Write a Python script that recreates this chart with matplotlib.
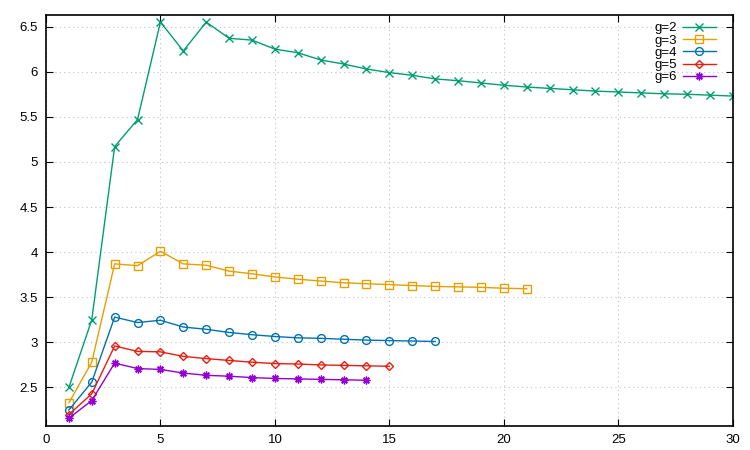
import matplotlib
matplotlib.use("Agg")
import matplotlib.pyplot as plt

plt.rcParams["font.family"] = ["Liberation Sans", "DejaVu Sans"]

# values
g2 = [2.50, 3.25, 5.17, 5.47, 6.55, 6.23, 6.55, 6.37, 6.35, 6.25,
      6.21, 6.13, 6.085, 6.03, 5.99, 5.96, 5.92, 5.90, 5.875, 5.85,
      5.83, 5.815, 5.80, 5.785, 5.775, 5.765, 5.755, 5.75, 5.74, 5.73]
g3 = [2.33, 2.78, 3.87, 3.85, 4.01, 3.87, 3.855, 3.79, 3.76, 3.725,
      3.70, 3.68, 3.66, 3.65, 3.64, 3.63, 3.62, 3.615, 3.61, 3.60, 3.595]
g4 = [2.25, 2.56, 3.28, 3.22, 3.245, 3.17, 3.145, 3.11, 3.085, 3.065,
      3.05, 3.045, 3.035, 3.025, 3.02, 3.015, 3.01]
g5 = [2.20, 2.43, 2.96, 2.90, 2.895, 2.845, 2.82, 2.80, 2.78, 2.765,
      2.76, 2.75, 2.745, 2.74, 2.735]
g6 = [2.16, 2.355, 2.77, 2.71, 2.70, 2.66, 2.635, 2.625, 2.61, 2.60,
      2.595, 2.59, 2.585, 2.58]

series = [
    ("g=2", g2, "#009e73", "x"),
    ("g=3", g3, "#e69f00", "s"),
    ("g=4", g4, "#0072b2", "o"),
    ("g=5", g5, "#e51e10", "D"),
    ("g=6", g6, "#9400d3", (8, 2, 0)),
]

fig = plt.figure(figsize=(7.5, 4.5), dpi=100)
ax = fig.add_axes([0.0613, 0.0533, 0.9157, 0.9137])

for label, vals, col, mk in series:
    xs = list(range(1, len(vals) + 1))
    size = 4.3 if mk == "D" else 5.6
    ax.plot(xs, vals, color=col, lw=1.0, marker=mk, ms=size,
            mfc="none", mec=col, mew=1.0, label=label)

ax.set_xlim(0, 30)
ax.set_ylim(2.073, 6.63)
ax.set_xticks(range(0, 31, 5))
ax.set_yticks([2.5, 3, 3.5, 4, 4.5, 5, 5.5, 6, 6.5])
ax.set_yticklabels(["2.5", "3", "3.5", "4", "4.5", "5", "5.5", "6", "6.5"])
ax.grid(True, color="#c0c0c0", ls=(0, (1, 3)), lw=0.8)
ax.tick_params(direction="in", top=True, right=True, length=5,
               labelsize=9.5, colors="black", pad=6)
for sp in ax.spines.values():
    sp.set_linewidth(1.2)

ax.legend(loc="upper right", frameon=False, markerfirst=False, fontsize=9.5,
          labelspacing=0.0, handlelength=2.5, handletextpad=0.45,
          borderaxespad=0.0, bbox_to_anchor=(0.983, 0.995))

fig.savefig("out.png", dpi=100)
